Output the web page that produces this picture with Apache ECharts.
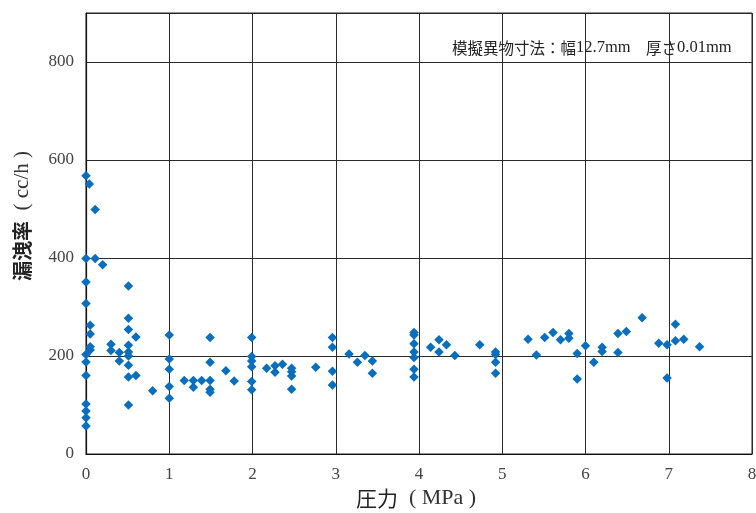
<!DOCTYPE html>
<html>
<head>
<meta charset="utf-8">
<script src="https://cdn.jsdelivr.net/npm/echarts@6/dist/echarts.min.js"></script>
<style>
  html, body { margin: 0; padding: 0; background: #fff; }
  #chart { width: 756px; height: 513px; }
</style>
</head>
<body>
<div id="chart"></div>
<script>
// Pressure (MPa) of each measurement
const pressure = [
  0, 0.04, 0.11, 0, 0.11, 0.2, 0, 0, 0.05, 0.05, 0.05, 0.05, 0, 0, 0, 0, 0, 0, 0,
  0.3, 0.3, 0.4, 0.4,
  0.51, 0.51, 0.51, 0.6, 0.51, 0.51, 0.51, 0.51, 0.51, 0.6, 0.51,
  0.8,
  1, 1, 1, 1, 1,
  1.18, 1.29, 1.29, 1.39,
  1.49, 1.49, 1.49, 1.49, 1.49,
  1.68, 1.78,
  1.99, 1.99, 1.99, 1.99, 1.99, 1.99,
  2.17, 2.27, 2.27, 2.36,
  2.47, 2.47, 2.47, 2.47,
  2.76,
  2.96, 2.96, 2.96, 2.96,
  3.16, 3.26, 3.35, 3.44, 3.44,
  3.94, 3.94, 3.94, 3.94, 3.94, 3.94, 3.94,
  4.14, 4.24, 4.24, 4.33, 4.43,
  4.73,
  4.92, 4.92, 4.92, 4.92,
  5.31, 5.41, 5.51, 5.61, 5.70, 5.80, 5.80, 5.90, 5.90,
  6.0, 6.10, 6.20, 6.20, 6.39, 6.39, 6.49, 6.68,
  6.88, 6.98, 6.98, 7.08, 7.08, 7.18, 7.37
];

// Leakage rate (cc/h) for the same measurements
const leakage = [
  568, 551, 499, 399, 399, 386, 351, 307, 263, 245, 219, 212, 203, 188, 160, 102, 88, 74, 57,
  224, 211, 207, 190,
  343, 277, 254, 239, 222, 208, 200, 181, 157, 160, 100,
  129,
  243, 194, 173, 138, 114,
  150, 150, 136, 150,
  238, 187, 150, 132, 126,
  170, 149,
  238, 199, 190, 178, 148, 131,
  175, 180, 167, 183,
  175, 168, 159, 132,
  177,
  238, 218, 169, 141,
  204, 187, 201, 190, 165,
  248, 243, 225, 208, 197, 173, 157,
  218, 233, 208, 223, 201,
  223,
  208, 203, 187, 165,
  234, 202, 238, 248, 233, 246, 236, 205, 153,
  221, 187, 218, 209, 246, 207, 250, 278,
  226, 223, 155, 265, 231, 234, 219
];

const xTicks = { min: 0, max: 8, step: 1 };
const yTicks = { min: 0, max: 900, step: 200 };

const xTitleCJK = '圧力';
const xTitleUnit = '( MPa )';
const yTitleCJK = '漏洩率';
const yTitleUnit = '( cc/h )';
const noteLabel = '模擬異物寸法：幅';
const noteWidth = '12.7mm';
const noteThick = '厚さ';
const noteThickVal = '0.01mm';

const serif = '"Liberation Serif", "DejaVu Serif", serif';
const cjk = '"Noto Sans CJK JP", sans-serif';

const points = pressure.map((p, i) => [p, leakage[i]]);

const chart = echarts.init(document.getElementById('chart'), null, { renderer: 'canvas' });

chart.setOption({
  animation: false,
  backgroundColor: '#fff',
  grid: {
    left: 86, right: 4, top: 13, bottom: 59,
    outerBoundsMode: 'none',
    containLabel: false,
    show: true, borderColor: '#222', borderWidth: 1
  },
  xAxis: {
    type: 'value',
    min: xTicks.min, max: xTicks.max, interval: xTicks.step,
    axisLine: { show: true, lineStyle: { color: '#111', width: 1.2 } },
    axisTick: { show: false },
    splitLine: { show: true, lineStyle: { color: '#2a2a2a', width: 1 } },
    axisLabel: {
      color: '#444', fontFamily: serif, fontSize: 17, margin: 12
    }
  },
  yAxis: {
    type: 'value',
    min: yTicks.min, max: yTicks.max, interval: yTicks.step,
    axisLine: { show: true, lineStyle: { color: '#111', width: 1.2 } },
    axisTick: { show: false },
    splitLine: { show: true, lineStyle: { color: '#2a2a2a', width: 1 } },
    axisLabel: {
      color: '#444', fontFamily: serif, fontSize: 17, margin: 12,
      showMaxLabel: false
    }
  },
  graphic: [
    {
      type: 'text',
      x: 22, y: 216,
      rotation: Math.PI / 2,
      style: {
        text: '{c|' + yTitleCJK + '}{u|  ' + yTitleUnit + '}',
        align: 'center',
        verticalAlign: 'middle',
        rich: {
          c: { fontFamily: cjk, fontSize: 20, fontWeight: 'bold', fill: '#222' },
          u: { fontFamily: serif, fontSize: 21, fill: '#333' }
        }
      }
    },
    {
      type: 'text',
      x: 416, y: 498,
      style: {
        text: '{c|' + xTitleCJK + '}{u|  ' + xTitleUnit + '}',
        align: 'center',
        verticalAlign: 'middle',
        rich: {
          c: { fontFamily: cjk, fontSize: 21, fill: '#222' },
          u: { fontFamily: serif, fontSize: 22, fill: '#333' }
        }
      }
    },
    {
      type: 'text',
      x: 452, y: 48,
      style: {
        text: '{c|' + noteLabel + '}{n|' + noteWidth + '}{c|　' + noteThick + '}{n|' + noteThickVal + '}',
        align: 'left',
        verticalAlign: 'middle',
        rich: {
          c: { fontFamily: cjk, fontSize: 15.5, fill: '#222' },
          n: { fontFamily: serif, fontSize: 16.5, fill: '#222' }
        }
      }
    }
  ],
  series: [{
    type: 'scatter',
    data: points,
    symbol: 'diamond',
    symbolSize: 9.5,
    itemStyle: { color: '#0a6ebe', opacity: 1 }
  }]
});
</script>
</body>
</html>
